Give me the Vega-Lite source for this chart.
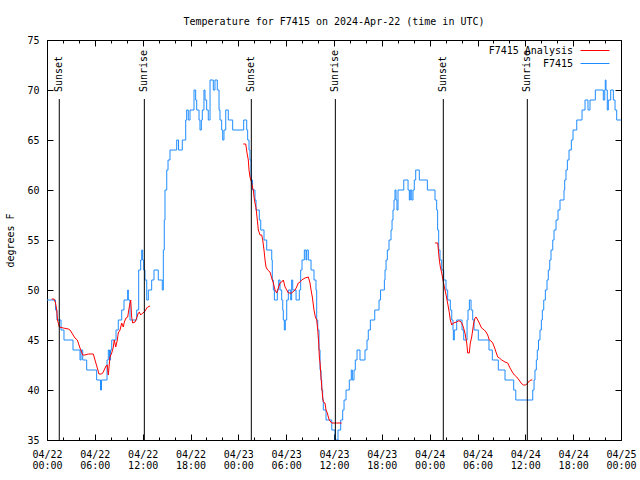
{
  "$schema": "https://vega.github.io/schema/vega-lite/v6.json",
  "width": 574,
  "height": 400,
  "autosize": "none",
  "padding": {"left": 47, "top": 40, "right": 19, "bottom": 40},
  "background": "white",
  "title": {"text": "Temperature for F7415 on 2024-Apr-22 (time in UTC)", "font": "DejaVu Sans Mono", "fontSize": 10, "fontWeight": "normal", "color": "black", "baseline": "alphabetic", "offset": 0, "anchor": "middle"},
  "config": {
    "view": {"stroke": "black", "strokeWidth": 1},
    "axis": {"grid": false, "domain": false, "labelFont": "DejaVu Sans Mono", "labelFontSize": 10, "labelColor": "black", "tickColor": "black", "tickWidth": 1, "titleFont": "DejaVu Sans Mono", "titleFontSize": 10, "titleFontWeight": "normal", "titleColor": "black", "labelFlush": false, "labelOverlap": false, "labelBound": false}
  },
  "datasets": {
    "obs": [
      {"h":0.00,"t":49},{"h":1.07,"t":48},{"h":1.25,"t":47},{"h":1.76,"t":46},{"h":2.13,"t":45},{"h":3.26,"t":44},{"h":4.14,"t":43},{"h":4.27,"t":44},{"h":4.48,"t":43},{"h":4.98,"t":42},{"h":6.23,"t":41},{"h":6.71,"t":40},{"h":6.84,"t":41},{"h":7.53,"t":43},{"h":7.69,"t":44},{"h":7.84,"t":43},{"h":7.97,"t":44},{"h":8.12,"t":45},{"h":8.66,"t":46},{"h":8.94,"t":47},{"h":9.37,"t":48},{"h":9.66,"t":49},{"h":10.12,"t":50},{"h":10.20,"t":49},{"h":10.41,"t":47},{"h":11.25,"t":48},{"h":11.50,"t":52},{"h":11.75,"t":53},{"h":11.88,"t":54},{"h":12.00,"t":53},{"h":12.13,"t":52},{"h":12.29,"t":51},{"h":12.51,"t":49},{"h":12.71,"t":50},{"h":13.13,"t":51},{"h":13.42,"t":52},{"h":13.96,"t":51},{"h":14.46,"t":50},{"h":14.59,"t":54},{"h":14.71,"t":57},{"h":14.80,"t":60},{"h":15.02,"t":62},{"h":15.18,"t":63},{"h":15.43,"t":64},{"h":16.27,"t":65},{"h":16.50,"t":64},{"h":16.97,"t":65},{"h":17.40,"t":67},{"h":17.52,"t":68},{"h":17.72,"t":67},{"h":17.94,"t":68},{"h":18.44,"t":70},{"h":18.65,"t":69},{"h":18.78,"t":68},{"h":19.07,"t":67},{"h":19.19,"t":66},{"h":19.36,"t":67},{"h":19.48,"t":68},{"h":19.69,"t":70},{"h":19.82,"t":69},{"h":20.03,"t":68},{"h":20.23,"t":67},{"h":20.45,"t":71},{"h":20.86,"t":70},{"h":21.07,"t":71},{"h":21.36,"t":70},{"h":21.58,"t":68},{"h":21.70,"t":67},{"h":21.91,"t":66},{"h":22.04,"t":65},{"h":22.20,"t":66},{"h":22.42,"t":68},{"h":22.74,"t":67},{"h":23.29,"t":66},{"h":24.67,"t":67},{"h":25.05,"t":66},{"h":25.17,"t":65},{"h":25.34,"t":64},{"h":25.46,"t":63},{"h":25.59,"t":61},{"h":25.78,"t":60},{"h":26.09,"t":59},{"h":26.22,"t":58},{"h":26.63,"t":57},{"h":26.81,"t":56},{"h":27.22,"t":55},{"h":27.56,"t":54},{"h":28.19,"t":53},{"h":28.26,"t":51},{"h":28.39,"t":50},{"h":28.52,"t":49},{"h":28.89,"t":50},{"h":29.06,"t":51},{"h":29.23,"t":50},{"h":29.44,"t":49},{"h":29.57,"t":48},{"h":29.64,"t":47},{"h":29.77,"t":46},{"h":29.89,"t":47},{"h":30.07,"t":49},{"h":30.27,"t":50},{"h":30.57,"t":49},{"h":30.69,"t":51},{"h":30.82,"t":50},{"h":31.24,"t":49},{"h":31.65,"t":50},{"h":31.82,"t":52},{"h":31.99,"t":53},{"h":32.28,"t":54},{"h":32.49,"t":53},{"h":32.58,"t":54},{"h":32.78,"t":53},{"h":33.12,"t":52},{"h":33.49,"t":51},{"h":33.74,"t":50},{"h":33.83,"t":47},{"h":33.96,"t":46},{"h":34.12,"t":44},{"h":34.25,"t":42},{"h":34.37,"t":41},{"h":34.46,"t":40},{"h":34.58,"t":39},{"h":34.66,"t":38},{"h":35.00,"t":37},{"h":35.72,"t":36},{"h":36.13,"t":35},{"h":36.50,"t":36},{"h":36.84,"t":37},{"h":37.09,"t":38},{"h":37.26,"t":39},{"h":37.51,"t":40},{"h":37.92,"t":41},{"h":38.17,"t":42},{"h":38.30,"t":41},{"h":38.51,"t":42},{"h":38.67,"t":43},{"h":38.89,"t":44},{"h":39.26,"t":43},{"h":39.89,"t":44},{"h":40.14,"t":45},{"h":40.30,"t":46},{"h":40.56,"t":47},{"h":41.11,"t":48},{"h":41.65,"t":49},{"h":41.84,"t":50},{"h":42.32,"t":51},{"h":42.40,"t":52},{"h":42.53,"t":53},{"h":42.69,"t":54},{"h":42.90,"t":55},{"h":43.15,"t":56},{"h":43.28,"t":57},{"h":43.40,"t":58},{"h":43.53,"t":59},{"h":43.65,"t":60},{"h":43.78,"t":59},{"h":43.90,"t":58},{"h":44.03,"t":60},{"h":44.75,"t":61},{"h":45.29,"t":60},{"h":45.45,"t":59},{"h":45.57,"t":60},{"h":45.75,"t":59},{"h":45.91,"t":60},{"h":46.07,"t":61},{"h":46.25,"t":62},{"h":46.70,"t":61},{"h":47.71,"t":60},{"h":48.67,"t":59},{"h":48.88,"t":58},{"h":49.00,"t":56},{"h":49.13,"t":54},{"h":49.30,"t":53},{"h":49.51,"t":52},{"h":49.76,"t":51},{"h":50.05,"t":50},{"h":50.26,"t":49},{"h":50.59,"t":48},{"h":50.77,"t":47},{"h":50.93,"t":46},{"h":50.97,"t":45},{"h":51.09,"t":46},{"h":51.39,"t":47},{"h":52.06,"t":46},{"h":52.27,"t":45},{"h":52.69,"t":47},{"h":52.81,"t":48},{"h":52.98,"t":49},{"h":53.19,"t":48},{"h":53.40,"t":47},{"h":53.57,"t":46},{"h":54.10,"t":45},{"h":55.44,"t":44},{"h":55.86,"t":43},{"h":56.61,"t":42},{"h":57.45,"t":41},{"h":58.54,"t":40},{"h":58.80,"t":39},{"h":60.93,"t":40},{"h":61.09,"t":41},{"h":61.21,"t":42},{"h":61.38,"t":43},{"h":61.50,"t":44},{"h":61.65,"t":45},{"h":61.84,"t":46},{"h":62.01,"t":47},{"h":62.13,"t":48},{"h":62.31,"t":49},{"h":62.51,"t":50},{"h":62.72,"t":51},{"h":62.88,"t":52},{"h":63.06,"t":53},{"h":63.22,"t":54},{"h":63.44,"t":55},{"h":63.60,"t":56},{"h":63.85,"t":57},{"h":64.10,"t":58},{"h":64.35,"t":59},{"h":64.85,"t":60},{"h":64.94,"t":61},{"h":65.10,"t":62},{"h":65.27,"t":63},{"h":65.48,"t":64},{"h":65.77,"t":65},{"h":65.98,"t":66},{"h":66.45,"t":67},{"h":67.11,"t":68},{"h":67.49,"t":69},{"h":67.86,"t":68},{"h":68.11,"t":69},{"h":68.78,"t":70},{"h":69.78,"t":69},{"h":69.96,"t":70},{"h":70.03,"t":71},{"h":70.12,"t":70},{"h":70.28,"t":68},{"h":70.41,"t":69},{"h":70.71,"t":70},{"h":71.04,"t":69},{"h":71.25,"t":68},{"h":71.46,"t":67},{"h":72.00,"t":67}
    ],
    "ana": [
      {"h":0.59,"t":49.1,"s":1},{"h":0.88,"t":49.1,"s":1},{"h":1.07,"t":48.7,"s":1},{"h":1.22,"t":48,"s":1},{"h":1.32,"t":47,"s":1},{"h":1.42,"t":46.7,"s":1},{"h":1.54,"t":46.3,"s":1},{"h":2.04,"t":46.2,"s":1},{"h":2.67,"t":46.1,"s":1},{"h":2.89,"t":46,"s":1},{"h":3.51,"t":45.2,"s":1},{"h":3.80,"t":45,"s":1},{"h":4.14,"t":44.2,"s":1},{"h":4.48,"t":43.5,"s":1},{"h":4.77,"t":43.5,"s":1},{"h":5.18,"t":43.6,"s":1},{"h":5.81,"t":43.6,"s":1},{"h":6.02,"t":43,"s":1},{"h":6.31,"t":42.2,"s":1},{"h":6.52,"t":41.6,"s":1},{"h":6.86,"t":41.6,"s":1},{"h":7.06,"t":41.8,"s":1},{"h":7.40,"t":42.4,"s":1},{"h":7.56,"t":42.5,"s":1},{"h":7.69,"t":41.5,"s":1},{"h":7.90,"t":43.3,"s":1},{"h":8.12,"t":43.7,"s":1},{"h":8.32,"t":44.3,"s":1},{"h":8.44,"t":45,"s":1},{"h":8.62,"t":44.3,"s":1},{"h":8.82,"t":45,"s":1},{"h":8.94,"t":45.7,"s":1},{"h":9.16,"t":46,"s":1},{"h":9.37,"t":46.7,"s":1},{"h":9.57,"t":46.3,"s":1},{"h":9.70,"t":46.8,"s":1},{"h":9.91,"t":47.2,"s":1},{"h":10.12,"t":47.3,"s":1},{"h":10.32,"t":48.3,"s":1},{"h":10.50,"t":49,"s":1},{"h":10.62,"t":47.3,"s":1},{"h":10.75,"t":46.7,"s":1},{"h":11.04,"t":46.8,"s":1},{"h":11.25,"t":47.2,"s":1},{"h":11.45,"t":47.7,"s":1},{"h":11.58,"t":47.8,"s":1},{"h":11.75,"t":47.5,"s":1},{"h":12.00,"t":47.7,"s":1},{"h":12.21,"t":47.8,"s":1},{"h":12.38,"t":48,"s":1},{"h":12.51,"t":48.2,"s":1},{"h":12.63,"t":48.3,"s":1},{"h":12.92,"t":48.4,"s":1},
      {"h":24.62,"t":64.6,"s":2},{"h":24.93,"t":64.6,"s":2},{"h":25.09,"t":63.7,"s":2},{"h":25.25,"t":63,"s":2},{"h":25.34,"t":62,"s":2},{"h":25.46,"t":61.3,"s":2},{"h":25.68,"t":60.7,"s":2},{"h":25.80,"t":60.2,"s":2},{"h":25.88,"t":60,"s":2},{"h":25.97,"t":59.3,"s":2},{"h":26.09,"t":58.7,"s":2},{"h":26.22,"t":58.2,"s":2},{"h":26.38,"t":57,"s":2},{"h":26.51,"t":56,"s":2},{"h":26.72,"t":55.5,"s":2},{"h":26.93,"t":55.5,"s":2},{"h":27.06,"t":55,"s":2},{"h":27.22,"t":54,"s":2},{"h":27.35,"t":53,"s":2},{"h":27.47,"t":52.3,"s":2},{"h":27.68,"t":52,"s":2},{"h":27.97,"t":51.8,"s":2},{"h":28.19,"t":51.2,"s":2},{"h":28.39,"t":50.7,"s":2},{"h":28.60,"t":50,"s":2},{"h":28.81,"t":49.7,"s":2},{"h":29.01,"t":50.2,"s":2},{"h":29.23,"t":50.7,"s":2},{"h":29.44,"t":50.8,"s":2},{"h":29.64,"t":51,"s":2},{"h":29.86,"t":50.3,"s":2},{"h":30.07,"t":50,"s":2},{"h":30.27,"t":49.7,"s":2},{"h":30.69,"t":49.7,"s":2},{"h":31.11,"t":50,"s":2},{"h":31.32,"t":50.3,"s":2},{"h":31.52,"t":50.7,"s":2},{"h":31.74,"t":50.8,"s":2},{"h":31.95,"t":51,"s":2},{"h":32.36,"t":51.2,"s":2},{"h":32.78,"t":51.3,"s":2},{"h":32.99,"t":50.7,"s":2},{"h":33.12,"t":50,"s":2},{"h":33.28,"t":49.3,"s":2},{"h":33.49,"t":48,"s":2},{"h":33.66,"t":47.3,"s":2},{"h":33.83,"t":47,"s":2},{"h":33.96,"t":46,"s":2},{"h":34.08,"t":44.7,"s":2},{"h":34.16,"t":43.3,"s":2},{"h":34.25,"t":42.7,"s":2},{"h":34.37,"t":41.3,"s":2},{"h":34.50,"t":40,"s":2},{"h":34.58,"t":39.3,"s":2},{"h":34.66,"t":38.8,"s":2},{"h":34.87,"t":38.7,"s":2},{"h":35.00,"t":38,"s":2},{"h":35.16,"t":37.7,"s":2},{"h":35.29,"t":37.3,"s":2},{"h":35.41,"t":37,"s":2},{"h":35.71,"t":36.7,"s":2},{"h":36.34,"t":36.7,"s":2},{"h":36.97,"t":36.7,"s":2},
      {"h":48.67,"t":54.7,"s":3},{"h":49.01,"t":54.7,"s":3},{"h":49.09,"t":54,"s":3},{"h":49.21,"t":53,"s":3},{"h":49.34,"t":52.3,"s":3},{"h":49.51,"t":51.7,"s":3},{"h":49.67,"t":51,"s":3},{"h":49.84,"t":50.3,"s":3},{"h":50.01,"t":49.7,"s":3},{"h":50.18,"t":49,"s":3},{"h":50.34,"t":48.3,"s":3},{"h":50.47,"t":47.7,"s":3},{"h":50.59,"t":47,"s":3},{"h":50.77,"t":46.5,"s":3},{"h":50.97,"t":46.7,"s":3},{"h":51.39,"t":46.8,"s":3},{"h":51.59,"t":46.9,"s":3},{"h":51.81,"t":46.9,"s":3},{"h":52.02,"t":46.7,"s":3},{"h":52.22,"t":46.3,"s":3},{"h":52.43,"t":45.7,"s":3},{"h":52.65,"t":44.7,"s":3},{"h":52.77,"t":43.7,"s":3},{"h":52.97,"t":43.7,"s":3},{"h":53.10,"t":44.7,"s":3},{"h":53.27,"t":45.3,"s":3},{"h":53.40,"t":46,"s":3},{"h":53.52,"t":46.7,"s":3},{"h":53.69,"t":47.2,"s":3},{"h":53.82,"t":47.3,"s":3},{"h":54.03,"t":47,"s":3},{"h":54.23,"t":46.7,"s":3},{"h":54.44,"t":46.3,"s":3},{"h":54.65,"t":46.1,"s":3},{"h":54.86,"t":46,"s":3},{"h":55.07,"t":45.8,"s":3},{"h":55.28,"t":45.5,"s":3},{"h":55.48,"t":45,"s":3},{"h":55.70,"t":44.9,"s":3},{"h":55.91,"t":44.7,"s":3},{"h":56.11,"t":44.3,"s":3},{"h":56.32,"t":43.8,"s":3},{"h":56.54,"t":43.3,"s":3},{"h":56.74,"t":43.2,"s":3},{"h":57.04,"t":43,"s":3},{"h":57.45,"t":42.8,"s":3},{"h":57.79,"t":42.7,"s":3},{"h":58.08,"t":42.2,"s":3},{"h":58.37,"t":41.8,"s":3},{"h":58.62,"t":41.5,"s":3},{"h":58.92,"t":41.3,"s":3},{"h":59.21,"t":41,"s":3},{"h":59.46,"t":40.7,"s":3},{"h":59.75,"t":40.5,"s":3},{"h":60.05,"t":40.5,"s":3},{"h":60.30,"t":40.7,"s":3},{"h":60.50,"t":40.9,"s":3},{"h":60.71,"t":41,"s":3},{"h":60.88,"t":41,"s":3}
    ],
    "sun": [
      {"h":1.54,"event":"Sunset"},{"h":12.21,"event":"Sunrise"},{"h":25.63,"event":"Sunset"},{"h":36.17,"event":"Sunrise"},{"h":49.71,"event":"Sunset"},{"h":60.25,"event":"Sunrise"}
    ]
  },
  "resolve": {"axis": {"x": "independent", "y": "independent"}},
  "layer": [
    {
      "data": {"name": "obs"},
      "mark": {"type": "line", "interpolate": "step-after", "strokeWidth": 1, "clip": true},
      "encoding": {
        "x": {"field": "h", "type": "quantitative", "scale": {"domain": [0, 72], "nice": false, "zero": false},
          "axis": {"orient": "bottom", "values": [0,6,12,18,24,30,36,42,48,54,60,66,72], "ticks": false, "labelPadding": 9, "labelBaseline": "top", "labelLineHeight": 11.5, "title": null,
            "labelExpr": "['04/' + (22 + floor(datum.value / 24)), (datum.value % 24 < 10 ? '0' : '') + (datum.value % 24) + ':00']"}},
        "y": {"field": "t", "type": "quantitative", "scale": {"domain": [35, 75], "nice": false, "zero": false},
          "axis": {"orient": "left", "values": [35,40,45,50,55,60,65,70,75], "ticks": false, "labelPadding": 8, "title": "degrees F", "titleX": -37, "titleY": 200, "titleAngle": 270, "titleAlign": "center", "titleBaseline": "middle"}},
        "color": {"datum": "F7415", "type": "nominal",
          "scale": {"domain": ["F7415 Analysis", "F7415"], "range": ["#ff0000", "#1e8cff"]},
          "legend": {"title": null, "orient": "none", "legendX": 542.5, "legendY": 5, "padding": 0, "symbolType": "M-3,0H3", "symbolSize": 93, "symbolStrokeWidth": 1, "labelAlign": "right", "labelOffset": -27.5, "labelFont": "DejaVu Sans Mono", "labelFontSize": 10, "labelColor": "black", "rowPadding": 2}}
      }
    },
    {
      "data": {"name": "ana"},
      "mark": {"type": "line", "strokeWidth": 1, "clip": true},
      "encoding": {
        "x": {"field": "h", "type": "quantitative", "axis": {"orient": "bottom", "values": [0,6,12,18,24,30,36,42,48,54,60,66,72], "labels": false, "tickSize": -6, "title": null}},
        "y": {"field": "t", "type": "quantitative", "axis": {"orient": "left", "values": [35,40,45,50,55,60,65,70,75], "labels": false, "tickSize": -6, "title": null}},
        "detail": {"field": "s", "type": "nominal"},
        "color": {"datum": "F7415 Analysis", "type": "nominal"}
      }
    },
    {
      "data": {"name": "sun"},
      "transform": [{"filter": "datum.event == 'Sunset'"}],
      "mark": {"type": "rule", "color": "black", "strokeWidth": 1},
      "encoding": {
        "x": {"field": "h", "type": "quantitative", "axis": {"orient": "bottom", "values": [0,2,4,6,8,10,12,14,16,18,20,22,24,26,28,30,32,34,36,38,40,42,44,46,48,50,52,54,56,58,60,62,64,66,68,70,72], "labels": false, "tickSize": -3, "title": null}},
        "y": {"datum": 35, "type": "quantitative", "axis": {"orient": "right", "values": [35,40,45,50,55,60,65,70,75], "labels": false, "tickSize": -6, "title": null}},
        "y2": {"datum": 69.1}
      }
    },
    {
      "data": {"name": "sun"},
      "transform": [{"filter": "datum.event == 'Sunrise'"}],
      "mark": {"type": "rule", "color": "black", "strokeWidth": 1},
      "encoding": {
        "x": {"field": "h", "type": "quantitative", "axis": {"orient": "top", "values": [0,2,4,6,8,10,12,14,16,18,20,22,24,26,28,30,32,34,36,38,40,42,44,46,48,50,52,54,56,58,60,62,64,66,68,70,72], "labels": false, "tickSize": -3, "title": null}},
        "y": {"datum": 35, "type": "quantitative", "axis": null},
        "y2": {"datum": 69.1}
      }
    },
    {
      "data": {"name": "sun"},
      "mark": {"type": "text", "angle": 270, "align": "left", "baseline": "middle", "font": "DejaVu Sans Mono", "fontSize": 10, "color": "black"},
      "encoding": {
        "x": {"field": "h", "type": "quantitative", "axis": {"orient": "top", "values": [0,6,12,18,24,30,36,42,48,54,60,66,72], "labels": false, "tickSize": -6, "title": null}},
        "y": {"datum": 69.8, "type": "quantitative", "axis": null},
        "text": {"field": "event"}
      }
    }
  ]
}
